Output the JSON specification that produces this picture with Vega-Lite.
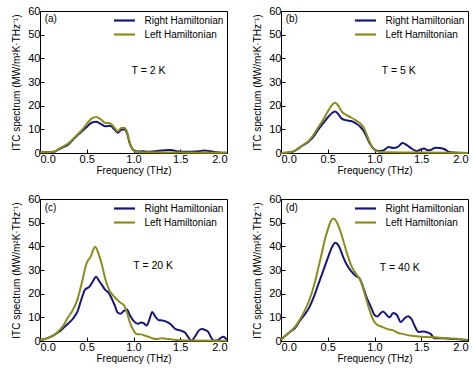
{
  "$schema": "https://vega.github.io/schema/vega-lite/v6.json",
  "padding": {"left": 11, "top": 4, "right": 5, "bottom": 5},
  "background": "white",
  "datasets": {
    "a": [
      {"s":"Right Hamiltonian","f":0,"v":0.3},{"s":"Right Hamiltonian","f":0.1,"v":0.3},{"s":"Right Hamiltonian","f":0.15,"v":0.5},{"s":"Right Hamiltonian","f":0.2,"v":1.5},{"s":"Right Hamiltonian","f":0.25,"v":2.5},{"s":"Right Hamiltonian","f":0.3,"v":3.5},{"s":"Right Hamiltonian","f":0.35,"v":5.5},{"s":"Right Hamiltonian","f":0.4,"v":7.5},{"s":"Right Hamiltonian","f":0.45,"v":9.2},{"s":"Right Hamiltonian","f":0.5,"v":11},{"s":"Right Hamiltonian","f":0.55,"v":12.8},{"s":"Right Hamiltonian","f":0.6,"v":13.2},{"s":"Right Hamiltonian","f":0.65,"v":12.3},{"s":"Right Hamiltonian","f":0.7,"v":11.3},{"s":"Right Hamiltonian","f":0.75,"v":11.5},{"s":"Right Hamiltonian","f":0.8,"v":9.8},{"s":"Right Hamiltonian","f":0.83,"v":8.6},{"s":"Right Hamiltonian","f":0.87,"v":9.8},{"s":"Right Hamiltonian","f":0.9,"v":10},{"s":"Right Hamiltonian","f":0.93,"v":8.5},{"s":"Right Hamiltonian","f":0.96,"v":4},{"s":"Right Hamiltonian","f":1.0,"v":1.2},{"s":"Right Hamiltonian","f":1.05,"v":0.6},{"s":"Right Hamiltonian","f":1.1,"v":0.7},{"s":"Right Hamiltonian","f":1.15,"v":0.5},{"s":"Right Hamiltonian","f":1.2,"v":0.6},{"s":"Right Hamiltonian","f":1.25,"v":0.9},{"s":"Right Hamiltonian","f":1.3,"v":1.1},{"s":"Right Hamiltonian","f":1.35,"v":1.2},{"s":"Right Hamiltonian","f":1.4,"v":1.3},{"s":"Right Hamiltonian","f":1.45,"v":0.9},{"s":"Right Hamiltonian","f":1.5,"v":0.6},{"s":"Right Hamiltonian","f":1.55,"v":0.5},{"s":"Right Hamiltonian","f":1.6,"v":0.5},{"s":"Right Hamiltonian","f":1.65,"v":0.6},{"s":"Right Hamiltonian","f":1.7,"v":0.7},{"s":"Right Hamiltonian","f":1.75,"v":1.1},{"s":"Right Hamiltonian","f":1.8,"v":0.9},{"s":"Right Hamiltonian","f":1.85,"v":0.5},{"s":"Right Hamiltonian","f":1.9,"v":0.3},{"s":"Right Hamiltonian","f":1.95,"v":0.1},{"s":"Right Hamiltonian","f":2.0,"v":0.1},
      {"s":"Left Hamiltonian","f":0,"v":0.3},{"s":"Left Hamiltonian","f":0.1,"v":0.3},{"s":"Left Hamiltonian","f":0.15,"v":0.5},{"s":"Left Hamiltonian","f":0.2,"v":1.7},{"s":"Left Hamiltonian","f":0.25,"v":2.8},{"s":"Left Hamiltonian","f":0.3,"v":4},{"s":"Left Hamiltonian","f":0.35,"v":5.8},{"s":"Left Hamiltonian","f":0.4,"v":7.8},{"s":"Left Hamiltonian","f":0.45,"v":9.8},{"s":"Left Hamiltonian","f":0.5,"v":12.3},{"s":"Left Hamiltonian","f":0.55,"v":14.5},{"s":"Left Hamiltonian","f":0.6,"v":15.2},{"s":"Left Hamiltonian","f":0.65,"v":14.2},{"s":"Left Hamiltonian","f":0.7,"v":12.7},{"s":"Left Hamiltonian","f":0.75,"v":12.6},{"s":"Left Hamiltonian","f":0.8,"v":10.5},{"s":"Left Hamiltonian","f":0.83,"v":9.2},{"s":"Left Hamiltonian","f":0.87,"v":10.6},{"s":"Left Hamiltonian","f":0.9,"v":10.7},{"s":"Left Hamiltonian","f":0.93,"v":9},{"s":"Left Hamiltonian","f":0.96,"v":4.5},{"s":"Left Hamiltonian","f":1.0,"v":1.2},{"s":"Left Hamiltonian","f":1.05,"v":0.4},{"s":"Left Hamiltonian","f":1.1,"v":0.3},{"s":"Left Hamiltonian","f":1.5,"v":0.2},{"s":"Left Hamiltonian","f":2.0,"v":0.1}
    ],
    "b": [
      {"s":"Right Hamiltonian","f":0,"v":0},{"s":"Right Hamiltonian","f":0.1,"v":0.3},{"s":"Right Hamiltonian","f":0.15,"v":1},{"s":"Right Hamiltonian","f":0.2,"v":2.3},{"s":"Right Hamiltonian","f":0.25,"v":3.6},{"s":"Right Hamiltonian","f":0.3,"v":5},{"s":"Right Hamiltonian","f":0.35,"v":7},{"s":"Right Hamiltonian","f":0.4,"v":10},{"s":"Right Hamiltonian","f":0.45,"v":12.5},{"s":"Right Hamiltonian","f":0.5,"v":15},{"s":"Right Hamiltonian","f":0.55,"v":17},{"s":"Right Hamiltonian","f":0.58,"v":17.5},{"s":"Right Hamiltonian","f":0.62,"v":16},{"s":"Right Hamiltonian","f":0.65,"v":14.5},{"s":"Right Hamiltonian","f":0.7,"v":13.8},{"s":"Right Hamiltonian","f":0.75,"v":13.5},{"s":"Right Hamiltonian","f":0.8,"v":12.5},{"s":"Right Hamiltonian","f":0.85,"v":11},{"s":"Right Hamiltonian","f":0.88,"v":9.5},{"s":"Right Hamiltonian","f":0.92,"v":6.5},{"s":"Right Hamiltonian","f":0.95,"v":4},{"s":"Right Hamiltonian","f":1.0,"v":1.5},{"s":"Right Hamiltonian","f":1.05,"v":0.8},{"s":"Right Hamiltonian","f":1.1,"v":1.2},{"s":"Right Hamiltonian","f":1.15,"v":2.5},{"s":"Right Hamiltonian","f":1.2,"v":2.1},{"s":"Right Hamiltonian","f":1.25,"v":2.6},{"s":"Right Hamiltonian","f":1.3,"v":4.2},{"s":"Right Hamiltonian","f":1.35,"v":3.2},{"s":"Right Hamiltonian","f":1.4,"v":1.8},{"s":"Right Hamiltonian","f":1.45,"v":0.8},{"s":"Right Hamiltonian","f":1.5,"v":1.6},{"s":"Right Hamiltonian","f":1.53,"v":1.9},{"s":"Right Hamiltonian","f":1.57,"v":1.2},{"s":"Right Hamiltonian","f":1.6,"v":1.3},{"s":"Right Hamiltonian","f":1.65,"v":2.2},{"s":"Right Hamiltonian","f":1.7,"v":2.1},{"s":"Right Hamiltonian","f":1.75,"v":1.6},{"s":"Right Hamiltonian","f":1.8,"v":0.4},{"s":"Right Hamiltonian","f":1.85,"v":0.2},{"s":"Right Hamiltonian","f":1.9,"v":0.1},{"s":"Right Hamiltonian","f":2.0,"v":0},
      {"s":"Left Hamiltonian","f":0,"v":0},{"s":"Left Hamiltonian","f":0.1,"v":0.3},{"s":"Left Hamiltonian","f":0.15,"v":1},{"s":"Left Hamiltonian","f":0.2,"v":2.4},{"s":"Left Hamiltonian","f":0.25,"v":3.8},{"s":"Left Hamiltonian","f":0.3,"v":5.3},{"s":"Left Hamiltonian","f":0.35,"v":7.8},{"s":"Left Hamiltonian","f":0.4,"v":11},{"s":"Left Hamiltonian","f":0.45,"v":14},{"s":"Left Hamiltonian","f":0.5,"v":17.5},{"s":"Left Hamiltonian","f":0.55,"v":20.5},{"s":"Left Hamiltonian","f":0.58,"v":21.2},{"s":"Left Hamiltonian","f":0.62,"v":19.5},{"s":"Left Hamiltonian","f":0.65,"v":17.5},{"s":"Left Hamiltonian","f":0.7,"v":16},{"s":"Left Hamiltonian","f":0.75,"v":15},{"s":"Left Hamiltonian","f":0.8,"v":13.8},{"s":"Left Hamiltonian","f":0.85,"v":12.4},{"s":"Left Hamiltonian","f":0.88,"v":11},{"s":"Left Hamiltonian","f":0.92,"v":7.5},{"s":"Left Hamiltonian","f":0.95,"v":4.5},{"s":"Left Hamiltonian","f":1.0,"v":1.3},{"s":"Left Hamiltonian","f":1.05,"v":0.5},{"s":"Left Hamiltonian","f":1.1,"v":0.3},{"s":"Left Hamiltonian","f":1.5,"v":0.2},{"s":"Left Hamiltonian","f":2.0,"v":0}
    ],
    "c": [
      {"s":"Right Hamiltonian","f":0,"v":0.5},{"s":"Right Hamiltonian","f":0.05,"v":0.8},{"s":"Right Hamiltonian","f":0.1,"v":1.5},{"s":"Right Hamiltonian","f":0.15,"v":2.5},{"s":"Right Hamiltonian","f":0.2,"v":3.8},{"s":"Right Hamiltonian","f":0.25,"v":5.5},{"s":"Right Hamiltonian","f":0.3,"v":7.3},{"s":"Right Hamiltonian","f":0.35,"v":9.3},{"s":"Right Hamiltonian","f":0.4,"v":12.4},{"s":"Right Hamiltonian","f":0.45,"v":18.5},{"s":"Right Hamiltonian","f":0.48,"v":21.6},{"s":"Right Hamiltonian","f":0.53,"v":23},{"s":"Right Hamiltonian","f":0.56,"v":24.8},{"s":"Right Hamiltonian","f":0.6,"v":27.2},{"s":"Right Hamiltonian","f":0.63,"v":25.5},{"s":"Right Hamiltonian","f":0.66,"v":23.8},{"s":"Right Hamiltonian","f":0.7,"v":21.5},{"s":"Right Hamiltonian","f":0.73,"v":20.5},{"s":"Right Hamiltonian","f":0.76,"v":18.5},{"s":"Right Hamiltonian","f":0.8,"v":15},{"s":"Right Hamiltonian","f":0.83,"v":12},{"s":"Right Hamiltonian","f":0.86,"v":11.5},{"s":"Right Hamiltonian","f":0.9,"v":12.8},{"s":"Right Hamiltonian","f":0.93,"v":13.3},{"s":"Right Hamiltonian","f":0.96,"v":11},{"s":"Right Hamiltonian","f":1.0,"v":8.5},{"s":"Right Hamiltonian","f":1.05,"v":7.3},{"s":"Right Hamiltonian","f":1.08,"v":7.8},{"s":"Right Hamiltonian","f":1.11,"v":7.5},{"s":"Right Hamiltonian","f":1.14,"v":6.5},{"s":"Right Hamiltonian","f":1.17,"v":9},{"s":"Right Hamiltonian","f":1.2,"v":12.3},{"s":"Right Hamiltonian","f":1.23,"v":10.5},{"s":"Right Hamiltonian","f":1.27,"v":8.8},{"s":"Right Hamiltonian","f":1.31,"v":8.7},{"s":"Right Hamiltonian","f":1.35,"v":8.2},{"s":"Right Hamiltonian","f":1.4,"v":7},{"s":"Right Hamiltonian","f":1.45,"v":5},{"s":"Right Hamiltonian","f":1.5,"v":4.5},{"s":"Right Hamiltonian","f":1.55,"v":3.6},{"s":"Right Hamiltonian","f":1.58,"v":2},{"s":"Right Hamiltonian","f":1.62,"v":0.1},{"s":"Right Hamiltonian","f":1.66,"v":2},{"s":"Right Hamiltonian","f":1.7,"v":4.5},{"s":"Right Hamiltonian","f":1.73,"v":5.1},{"s":"Right Hamiltonian","f":1.77,"v":4.6},{"s":"Right Hamiltonian","f":1.8,"v":3.8},{"s":"Right Hamiltonian","f":1.83,"v":1.5},{"s":"Right Hamiltonian","f":1.86,"v":0.1},{"s":"Right Hamiltonian","f":1.9,"v":0.3},{"s":"Right Hamiltonian","f":1.93,"v":1.2},{"s":"Right Hamiltonian","f":1.96,"v":1.8},{"s":"Right Hamiltonian","f":2.0,"v":0.5},
      {"s":"Left Hamiltonian","f":0,"v":0.5},{"s":"Left Hamiltonian","f":0.05,"v":0.8},{"s":"Left Hamiltonian","f":0.1,"v":1.5},{"s":"Left Hamiltonian","f":0.15,"v":2.5},{"s":"Left Hamiltonian","f":0.2,"v":4.2},{"s":"Left Hamiltonian","f":0.25,"v":6.5},{"s":"Left Hamiltonian","f":0.3,"v":10},{"s":"Left Hamiltonian","f":0.35,"v":13},{"s":"Left Hamiltonian","f":0.4,"v":17.5},{"s":"Left Hamiltonian","f":0.45,"v":25},{"s":"Left Hamiltonian","f":0.5,"v":33},{"s":"Left Hamiltonian","f":0.54,"v":35.5},{"s":"Left Hamiltonian","f":0.59,"v":39.8},{"s":"Left Hamiltonian","f":0.62,"v":37.5},{"s":"Left Hamiltonian","f":0.66,"v":32.5},{"s":"Left Hamiltonian","f":0.7,"v":26},{"s":"Left Hamiltonian","f":0.74,"v":21.5},{"s":"Left Hamiltonian","f":0.8,"v":18.5},{"s":"Left Hamiltonian","f":0.85,"v":16.5},{"s":"Left Hamiltonian","f":0.9,"v":15},{"s":"Left Hamiltonian","f":0.93,"v":12},{"s":"Left Hamiltonian","f":0.96,"v":8},{"s":"Left Hamiltonian","f":1.0,"v":4.5},{"s":"Left Hamiltonian","f":1.03,"v":3},{"s":"Left Hamiltonian","f":1.08,"v":2.8},{"s":"Left Hamiltonian","f":1.12,"v":2.3},{"s":"Left Hamiltonian","f":1.16,"v":1.8},{"s":"Left Hamiltonian","f":1.2,"v":1.2},{"s":"Left Hamiltonian","f":1.25,"v":0.8},{"s":"Left Hamiltonian","f":1.3,"v":1.2},{"s":"Left Hamiltonian","f":1.35,"v":1.0},{"s":"Left Hamiltonian","f":1.4,"v":0.7},{"s":"Left Hamiltonian","f":1.45,"v":0.5},{"s":"Left Hamiltonian","f":1.5,"v":0.3},{"s":"Left Hamiltonian","f":1.6,"v":0.2},{"s":"Left Hamiltonian","f":2.0,"v":0.1}
    ],
    "d": [
      {"s":"Right Hamiltonian","f":0,"v":0.5},{"s":"Right Hamiltonian","f":0.05,"v":2.3},{"s":"Right Hamiltonian","f":0.1,"v":4},{"s":"Right Hamiltonian","f":0.15,"v":5.5},{"s":"Right Hamiltonian","f":0.2,"v":8.5},{"s":"Right Hamiltonian","f":0.25,"v":11},{"s":"Right Hamiltonian","f":0.3,"v":14},{"s":"Right Hamiltonian","f":0.35,"v":18.5},{"s":"Right Hamiltonian","f":0.4,"v":24},{"s":"Right Hamiltonian","f":0.45,"v":29.5},{"s":"Right Hamiltonian","f":0.5,"v":35},{"s":"Right Hamiltonian","f":0.55,"v":40},{"s":"Right Hamiltonian","f":0.58,"v":41.5},{"s":"Right Hamiltonian","f":0.62,"v":40},{"s":"Right Hamiltonian","f":0.66,"v":36},{"s":"Right Hamiltonian","f":0.7,"v":32.5},{"s":"Right Hamiltonian","f":0.75,"v":29.5},{"s":"Right Hamiltonian","f":0.8,"v":27.5},{"s":"Right Hamiltonian","f":0.84,"v":26.5},{"s":"Right Hamiltonian","f":0.88,"v":22.5},{"s":"Right Hamiltonian","f":0.92,"v":18},{"s":"Right Hamiltonian","f":0.96,"v":14.5},{"s":"Right Hamiltonian","f":1.0,"v":11},{"s":"Right Hamiltonian","f":1.03,"v":10.3},{"s":"Right Hamiltonian","f":1.06,"v":11.5},{"s":"Right Hamiltonian","f":1.09,"v":12.5},{"s":"Right Hamiltonian","f":1.12,"v":11.5},{"s":"Right Hamiltonian","f":1.16,"v":10},{"s":"Right Hamiltonian","f":1.2,"v":11.8},{"s":"Right Hamiltonian","f":1.24,"v":11},{"s":"Right Hamiltonian","f":1.28,"v":8},{"s":"Right Hamiltonian","f":1.32,"v":9.5},{"s":"Right Hamiltonian","f":1.36,"v":10.5},{"s":"Right Hamiltonian","f":1.4,"v":9},{"s":"Right Hamiltonian","f":1.44,"v":5.5},{"s":"Right Hamiltonian","f":1.47,"v":3.8},{"s":"Right Hamiltonian","f":1.52,"v":4},{"s":"Right Hamiltonian","f":1.57,"v":3.6},{"s":"Right Hamiltonian","f":1.6,"v":3},{"s":"Right Hamiltonian","f":1.64,"v":1.2},{"s":"Right Hamiltonian","f":1.7,"v":1.2},{"s":"Right Hamiltonian","f":1.8,"v":1.0},{"s":"Right Hamiltonian","f":1.9,"v":0.7},{"s":"Right Hamiltonian","f":2.0,"v":0.4},
      {"s":"Left Hamiltonian","f":0,"v":0.5},{"s":"Left Hamiltonian","f":0.05,"v":2.3},{"s":"Left Hamiltonian","f":0.1,"v":4},{"s":"Left Hamiltonian","f":0.15,"v":6},{"s":"Left Hamiltonian","f":0.2,"v":9},{"s":"Left Hamiltonian","f":0.25,"v":12.5},{"s":"Left Hamiltonian","f":0.3,"v":17},{"s":"Left Hamiltonian","f":0.35,"v":23},{"s":"Left Hamiltonian","f":0.4,"v":31},{"s":"Left Hamiltonian","f":0.43,"v":36},{"s":"Left Hamiltonian","f":0.47,"v":43},{"s":"Left Hamiltonian","f":0.5,"v":47},{"s":"Left Hamiltonian","f":0.53,"v":50.5},{"s":"Left Hamiltonian","f":0.56,"v":51.8},{"s":"Left Hamiltonian","f":0.6,"v":50},{"s":"Left Hamiltonian","f":0.64,"v":45.8},{"s":"Left Hamiltonian","f":0.68,"v":40.5},{"s":"Left Hamiltonian","f":0.71,"v":36.5},{"s":"Left Hamiltonian","f":0.75,"v":32},{"s":"Left Hamiltonian","f":0.8,"v":28.5},{"s":"Left Hamiltonian","f":0.85,"v":25.5},{"s":"Left Hamiltonian","f":0.88,"v":22},{"s":"Left Hamiltonian","f":0.92,"v":16.5},{"s":"Left Hamiltonian","f":0.96,"v":11.5},{"s":"Left Hamiltonian","f":1.0,"v":8},{"s":"Left Hamiltonian","f":1.03,"v":6.8},{"s":"Left Hamiltonian","f":1.08,"v":6},{"s":"Left Hamiltonian","f":1.14,"v":5},{"s":"Left Hamiltonian","f":1.2,"v":4.5},{"s":"Left Hamiltonian","f":1.25,"v":3.5},{"s":"Left Hamiltonian","f":1.3,"v":3},{"s":"Left Hamiltonian","f":1.4,"v":2.2},{"s":"Left Hamiltonian","f":1.5,"v":1.8},{"s":"Left Hamiltonian","f":1.6,"v":1.6},{"s":"Left Hamiltonian","f":1.7,"v":1.4},{"s":"Left Hamiltonian","f":1.8,"v":1.1},{"s":"Left Hamiltonian","f":1.9,"v":0.8},{"s":"Left Hamiltonian","f":2.0,"v":0.4}
    ]
  },
  "columns": 2,
  "spacing": {"row": 16, "column": 20},
  "resolve": {"legend": {"color": "independent"}},
  "concat": [
    {
      "width": 187, "height": 142,
      "layer": [
        {"data": {"name": "a"}, "mark": {"type": "line", "strokeWidth": 2, "interpolate": "monotone"},
         "encoding": {
           "x": {"field": "f", "type": "quantitative", "scale": {"domain": [0, 2]}, "axis": {"values": [0, 0.5, 1, 1.5, 2], "format": ".1f", "title": "Frequency (THz)"}},
           "y": {"field": "v", "type": "quantitative", "scale": {"domain": [0, 60]}, "axis": {"values": [0, 10, 20, 30, 40, 50, 60], "title": "ITC spectrum (MW/m²K·THz⁻¹)", "titlePadding": 6}},
           "color": {"field": "s", "type": "nominal", "sort": null, "scale": {"domain": ["Right Hamiltonian", "Left Hamiltonian"], "range": ["#17177a", "#8c8c1c"]}}
         }},
        {"data": {"values": [{}]}, "mark": {"type": "text", "align": "left", "fontSize": 10}, "encoding": {"x": {"datum": 0.05, "axis": {"values": [0, 0.5, 1, 1.5, 2], "format": ".1f", "title": "Frequency (THz)"}}, "y": {"datum": 56.5, "axis": {"values": [0, 10, 20, 30, 40, 50, 60], "title": "ITC spectrum (MW/m²K·THz⁻¹)", "titlePadding": 6}}, "text": {"value": "(a)"}}},
        {"data": {"values": [{}]}, "mark": {"type": "text", "align": "center", "fontSize": 10.5}, "encoding": {"x": {"datum": 1.16, "axis": {"values": [0, 0.5, 1, 1.5, 2], "format": ".1f", "title": "Frequency (THz)"}}, "y": {"datum": 34.6, "axis": {"values": [0, 10, 20, 30, 40, 50, 60], "title": "ITC spectrum (MW/m²K·THz⁻¹)", "titlePadding": 6}}, "text": {"value": "T = 2 K"}}}
      ]
    },
    {
      "width": 187, "height": 142,
      "layer": [
        {"data": {"name": "b"}, "mark": {"type": "line", "strokeWidth": 2, "interpolate": "monotone"},
         "encoding": {
           "x": {"field": "f", "type": "quantitative", "scale": {"domain": [0, 2]}, "axis": {"values": [0, 0.5, 1, 1.5, 2], "format": ".1f", "title": "Frequency (THz)"}},
           "y": {"field": "v", "type": "quantitative", "scale": {"domain": [0, 60]}, "axis": {"values": [0, 10, 20, 30, 40, 50, 60], "title": "ITC spectrum (MW/m²K·THz⁻¹)", "titlePadding": 6}},
           "color": {"field": "s", "type": "nominal", "sort": null, "scale": {"domain": ["Right Hamiltonian", "Left Hamiltonian"], "range": ["#17177a", "#8c8c1c"]}}
         }},
        {"data": {"values": [{}]}, "mark": {"type": "text", "align": "left", "fontSize": 10}, "encoding": {"x": {"datum": 0.05, "axis": {"values": [0, 0.5, 1, 1.5, 2], "format": ".1f", "title": "Frequency (THz)"}}, "y": {"datum": 56.5, "axis": {"values": [0, 10, 20, 30, 40, 50, 60], "title": "ITC spectrum (MW/m²K·THz⁻¹)", "titlePadding": 6}}, "text": {"value": "(b)"}}},
        {"data": {"values": [{}]}, "mark": {"type": "text", "align": "center", "fontSize": 10.5}, "encoding": {"x": {"datum": 1.26, "axis": {"values": [0, 0.5, 1, 1.5, 2], "format": ".1f", "title": "Frequency (THz)"}}, "y": {"datum": 34.5, "axis": {"values": [0, 10, 20, 30, 40, 50, 60], "title": "ITC spectrum (MW/m²K·THz⁻¹)", "titlePadding": 6}}, "text": {"value": "T = 5 K"}}}
      ]
    },
    {
      "width": 187, "height": 142,
      "layer": [
        {"data": {"name": "c"}, "mark": {"type": "line", "strokeWidth": 2, "interpolate": "monotone"},
         "encoding": {
           "x": {"field": "f", "type": "quantitative", "scale": {"domain": [0, 2]}, "axis": {"values": [0, 0.5, 1, 1.5, 2], "format": ".1f", "title": "Frequency (THz)"}},
           "y": {"field": "v", "type": "quantitative", "scale": {"domain": [0, 60]}, "axis": {"values": [0, 10, 20, 30, 40, 50, 60], "title": "ITC spectrum (MW/m²K·THz⁻¹)", "titlePadding": 6}},
           "color": {"field": "s", "type": "nominal", "sort": null, "scale": {"domain": ["Right Hamiltonian", "Left Hamiltonian"], "range": ["#17177a", "#8c8c1c"]}}
         }},
        {"data": {"values": [{}]}, "mark": {"type": "text", "align": "left", "fontSize": 10}, "encoding": {"x": {"datum": 0.05, "axis": {"values": [0, 0.5, 1, 1.5, 2], "format": ".1f", "title": "Frequency (THz)"}}, "y": {"datum": 56, "axis": {"values": [0, 10, 20, 30, 40, 50, 60], "title": "ITC spectrum (MW/m²K·THz⁻¹)", "titlePadding": 6}}, "text": {"value": "(c)"}}},
        {"data": {"values": [{}]}, "mark": {"type": "text", "align": "center", "fontSize": 10.5}, "encoding": {"x": {"datum": 1.21, "axis": {"values": [0, 0.5, 1, 1.5, 2], "format": ".1f", "title": "Frequency (THz)"}}, "y": {"datum": 31.5, "axis": {"values": [0, 10, 20, 30, 40, 50, 60], "title": "ITC spectrum (MW/m²K·THz⁻¹)", "titlePadding": 6}}, "text": {"value": "T = 20 K"}}}
      ]
    },
    {
      "width": 187, "height": 142,
      "layer": [
        {"data": {"name": "d"}, "mark": {"type": "line", "strokeWidth": 2, "interpolate": "monotone"},
         "encoding": {
           "x": {"field": "f", "type": "quantitative", "scale": {"domain": [0, 2]}, "axis": {"values": [0, 0.5, 1, 1.5, 2], "format": ".1f", "title": "Frequency (THz)"}},
           "y": {"field": "v", "type": "quantitative", "scale": {"domain": [0, 60]}, "axis": {"values": [0, 10, 20, 30, 40, 50, 60], "title": "ITC spectrum (MW/m²K·THz⁻¹)", "titlePadding": 6}},
           "color": {"field": "s", "type": "nominal", "sort": null, "scale": {"domain": ["Right Hamiltonian", "Left Hamiltonian"], "range": ["#17177a", "#8c8c1c"]}}
         }},
        {"data": {"values": [{}]}, "mark": {"type": "text", "align": "left", "fontSize": 10}, "encoding": {"x": {"datum": 0.05, "axis": {"values": [0, 0.5, 1, 1.5, 2], "format": ".1f", "title": "Frequency (THz)"}}, "y": {"datum": 56, "axis": {"values": [0, 10, 20, 30, 40, 50, 60], "title": "ITC spectrum (MW/m²K·THz⁻¹)", "titlePadding": 6}}, "text": {"value": "(d)"}}},
        {"data": {"values": [{}]}, "mark": {"type": "text", "align": "center", "fontSize": 10.5}, "encoding": {"x": {"datum": 1.27, "axis": {"values": [0, 0.5, 1, 1.5, 2], "format": ".1f", "title": "Frequency (THz)"}}, "y": {"datum": 31, "axis": {"values": [0, 10, 20, 30, 40, 50, 60], "title": "ITC spectrum (MW/m²K·THz⁻¹)", "titlePadding": 6}}, "text": {"value": "T = 40 K"}}}
      ]
    }
  ],
  "config": {
    "font": "Liberation Sans",
    "view": {"stroke": "black", "strokeWidth": 1},
    "axis": {"grid": false, "domainColor": "black", "tickColor": "black", "labelColor": "black", "titleColor": "black", "labelFontSize": 11, "titleFontSize": 10, "titleFontWeight": "normal", "tickSize": -4, "labelPadding": 4, "titlePadding": 1, "labelOverlap": false},
    "legend": {"orient": "top-right", "offset": 1, "title": null, "symbolType": "M-2,0H2", "symbolStrokeWidth": 2.2, "symbolSize": 110, "labelFontSize": 10, "labelColor": "black", "rowPadding": 2, "padding": 2, "labelOffset": 13.5},
    "text": {"color": "black"}
  }
}
